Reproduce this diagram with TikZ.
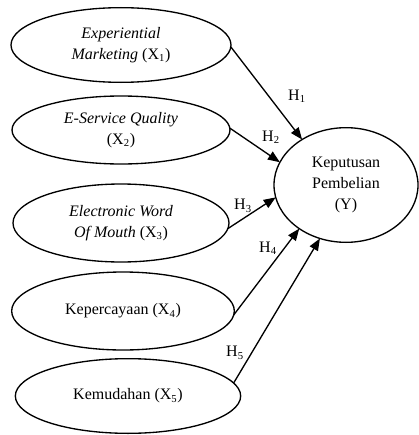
\documentclass[tikz,border=0pt]{standalone}
\usepackage{fontspec}
\setmainfont{Liberation Serif}
\usetikzlibrary{shapes.geometric,arrows.meta}
\begin{document}
\begin{tikzpicture}[x=0.75pt,y=-0.75pt,
  var/.style={draw,ellipse,line width=1pt,inner sep=0pt,outer sep=0pt,align=center,
    font=\fontsize{12}{16}\selectfont},
  conn/.style={line width=1pt,-{Triangle[length=9pt,width=7pt]}},
  hlab/.style={font=\fontsize{12}{14}\selectfont,inner sep=1pt}]
\useasboundingbox (0,0) rectangle (418,435);
\node[var,minimum width=165pt,minimum height=56pt] (e1) at (121,45)
  {\textit{Experiential}\\\textit{Marketing} (X\textsubscript{1})};
\node[var,minimum width=163.5pt,minimum height=51pt] (e2) at (121,130)
  {\textit{E-Service Quality}\\(X\textsubscript{2})};
\node[var,minimum width=162pt,minimum height=58.5pt] (e3) at (121,223)
  {\textit{Electronic Word}\\\textit{Of Mouth} (X\textsubscript{3})};
\node[var,minimum width=167pt,minimum height=58.5pt] (e4) at (123,311)
  {Kepercayaan (X\textsubscript{4})};
\node[var,minimum width=169pt,minimum height=56pt] (e5) at (128,396)
  {Kemudahan (X\textsubscript{5})};
\node[var,minimum width=108pt,minimum height=86pt] (y) at (346,185)
  {Keputusan\\Pembelian\\(Y)};
\draw[conn] (e1.-1) -- (y.134);
\draw[conn] (e2.1) -- (y.161);
\draw[conn] (e3.-3) -- (y.190);
\draw[conn] (e4.-2) -- (y.223);
\draw[conn] (e5.7) -- (y.244);
\node[hlab] (h1) at (297,96) {H\textsubscript{1}};
\node[hlab] (h2) at (271,137) {H\textsubscript{2}};
\node[hlab] (h3) at (243,206) {H\textsubscript{3}};
\node[hlab] (h4) at (268,248) {H\textsubscript{4}};
\node[hlab] (h5) at (235,353) {H\textsubscript{5}};
\end{tikzpicture}
\end{document}
